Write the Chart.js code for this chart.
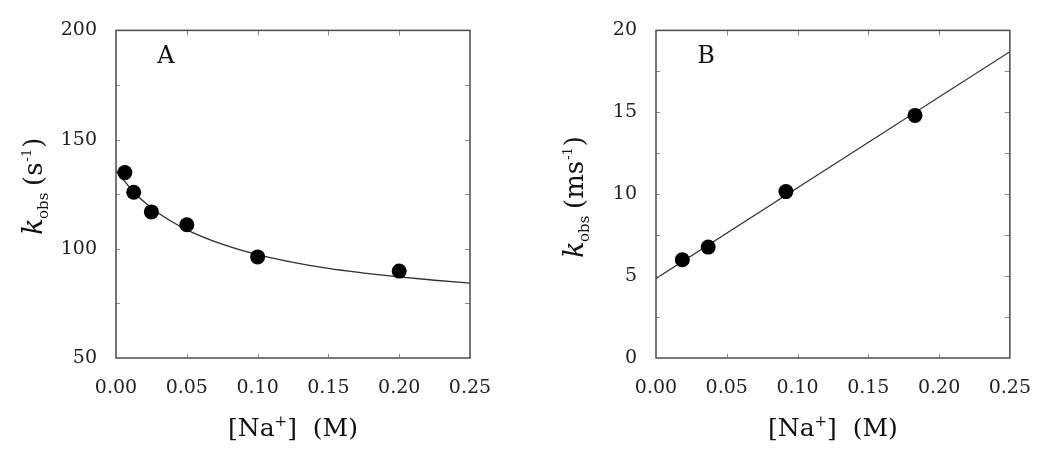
<!DOCTYPE html>
<html>
<head>
<meta charset="utf-8">
<script src="https://cdn.jsdelivr.net/npm/chart.js@4/dist/chart.umd.min.js"></script>
<style>
  html, body { margin: 0; padding: 0; background: #fff; }
  #wrap { position: relative; width: 1050px; height: 454px; }
  canvas { position: absolute; top: 0; }
</style>
</head>
<body>
<div id="wrap">
  <canvas id="cA" width="525" height="454" style="left:0px"></canvas>
  <canvas id="cB" width="525" height="454" style="left:525px"></canvas>
</div>
<script>
// ---------- DATA ----------
// Panel A: k_obs (s^-1) vs [Na+] (M)
const naA = [0.00625, 0.0125, 0.025, 0.05, 0.10, 0.20];
const kA  = [134.9, 125.9, 116.9, 111.0, 96.3, 89.8];
// fitted curve A
const fitXA = [0, 0.0125, 0.025, 0.0375, 0.05, 0.075, 0.10, 0.125, 0.15, 0.175, 0.20, 0.225, 0.25];
const fitYA = [135.8, 126.0, 118.7, 113.2, 108.7, 102.1, 97.3, 93.8, 91.0, 88.9, 87.1, 85.6, 84.3];

// Panel B: k_obs (ms^-1) vs [Na+] (M)
const naB = [0.0186, 0.0369, 0.0918, 0.183];
const kB  = [6.0, 6.77, 10.16, 14.81];
// fitted straight line B
const fitXB = [0, 0.25];
const fitYB = [4.85, 18.7];

// tick labels
const xTicks = [0, 0.05, 0.10, 0.15, 0.20, 0.25];
const yTicksA = [50, 100, 150, 200];
const yTicksB = [0, 5, 10, 15, 20];

// ---------- STYLE ----------
const SERIF = '"DejaVu Serif", "Liberation Serif", serif';

function toXY(xs, ys) { return xs.map((x, i) => ({ x: x, y: ys[i] })); }

function panelPlugin(opt) {
  return {
    id: 'panel' + opt.letter,
    afterDatasetsDraw(chart) {
      const ctx = chart.ctx;
      const a = chart.chartArea;
      const sx = chart.scales.x, sy = chart.scales.y;
      ctx.save();
      // inner ticks
      ctx.strokeStyle = '#8a8a8a';
      ctx.lineWidth = 1;
      ctx.beginPath();
      opt.xMinor.forEach(v => {
        const px = Math.round(sx.getPixelForValue(v)) + 0.5;
        ctx.moveTo(px, a.top); ctx.lineTo(px, a.top + 5);
        ctx.moveTo(px, a.bottom); ctx.lineTo(px, a.bottom - 4);
      });
      opt.yMinor.forEach(v => {
        const py = Math.round(sy.getPixelForValue(v)) + 0.5;
        ctx.moveTo(a.left, py); ctx.lineTo(a.left + 4, py);
        ctx.moveTo(a.right, py); ctx.lineTo(a.right - 5, py);
      });
      ctx.stroke();
      // frame
      ctx.strokeStyle = '#4a4a4a';
      ctx.lineWidth = 1.5;
      ctx.strokeRect(a.left, a.top, a.right - a.left, a.bottom - a.top);

      // panel letter
      ctx.fillStyle = '#111';
      ctx.font = '24px ' + SERIF;
      ctx.textAlign = 'center';
      ctx.textBaseline = 'middle';
      ctx.fillText(opt.letter, a.left + opt.letterDx, opt.letterY);

      // x title: [Na+]  (M)
      ctx.textBaseline = 'alphabetic';
      ctx.textAlign = 'left';
      const big = '25px ' + SERIF, sup = '15px ' + SERIF;
      const parts = [
        { t: '[Na', f: big, dy: 0 },
        { t: '+', f: sup, dy: -10 },
        { t: ']  (M)', f: big, dy: 0 }
      ];
      let w = 0;
      parts.forEach(p => { ctx.font = p.f; p.w = ctx.measureText(p.t).width; w += p.w; });
      let x0 = (a.left + a.right) / 2 - w / 2;
      const base = 436;
      parts.forEach(p => { ctx.font = p.f; ctx.fillText(p.t, x0, base + p.dy); x0 += p.w; });

      // y title: k_obs (unit^-1), rotated
      ctx.save();
      ctx.translate(opt.yTitleX, opt.yTitleY);
      ctx.rotate(-Math.PI / 2);
      ctx.font = 'italic 28px ' + SERIF;
      ctx.fillText('k', 0, 0);
      ctx.font = '15px ' + SERIF;
      ctx.fillText('obs', 16, 6);
      ctx.font = '26px ' + SERIF;
      const open = '(' + opt.unit;
      ctx.fillText(open, 49, 0);
      let ux = 49 + ctx.measureText(open).width + 1;
      ctx.font = '13px ' + SERIF;
      ctx.fillText('-1', ux, -11);
      ux += ctx.measureText('-1').width + 1;
      ctx.font = '26px ' + SERIF;
      ctx.fillText(')', ux, 0);
      ctx.restore();
      ctx.restore();
    }
  };
}

function makeChart(id, o) {
  return new Chart(document.getElementById(id), {
    type: 'scatter',
    data: {
      datasets: [
        {
          data: toXY(o.px, o.py),
          showLine: false,
          pointRadius: 7.5,
          pointHoverRadius: 7.5,
          pointBackgroundColor: '#000',
          pointBorderColor: '#000',
          pointBorderWidth: 0,
          order: 0
        },
        {
          type: 'line',
          data: toXY(o.fx, o.fy),
          showLine: true,
          fill: false,
          borderColor: '#2e2e2e',
          borderWidth: 1.3,
          pointRadius: 0,
          tension: 0.4,
          cubicInterpolationMode: 'monotone',
          order: 1
        }
      ]
    },
    options: {
      responsive: false,
      animation: false,
      devicePixelRatio: 1,
      layout: { padding: { left: 0, top: 24, right: o.padRight, bottom: 0 } },
      plugins: { legend: { display: false }, tooltip: { enabled: false }, title: { display: false } },
      events: [],
      scales: {
        x: {
          type: 'linear',
          min: 0, max: 0.25,
          afterBuildTicks(s) { s.ticks = xTicks.map(v => ({ value: v })); },
          afterFit(s) { s.height = 96; },
          grid: { display: false, drawTicks: false },
          border: { display: false },
          ticks: {
            autoSkip: false, maxRotation: 0, padding: 19,
            color: '#222', font: { family: SERIF, size: 19 },
            callback: v => Number(v).toFixed(2)
          }
        },
        y: {
          type: 'linear',
          min: o.yMin, max: o.yMax,
          afterBuildTicks(s) { s.ticks = o.yTicks.map(v => ({ value: v })); },
          afterFit(s) { s.width = o.yWidth; },
          grid: { display: false, drawTicks: false },
          border: { display: false },
          ticks: {
            autoSkip: false, padding: 19,
            color: '#222', font: { family: SERIF, size: 19 },
            callback: v => String(v)
          }
        }
      }
    },
    plugins: [panelPlugin(o)]
  });
}

makeChart('cA', {
  px: naA, py: kA, fx: fitXA, fy: fitYA,
  yMin: 50, yMax: 200, yTicks: yTicksA,
  yWidth: 116, padRight: 55,
  xMinor: [0.05, 0.10, 0.15, 0.20],
  yMinor: [75, 100, 125, 150, 175],
  letter: 'A', letterDx: 50, letterY: 57,
  unit: 's', yTitleX: 42, yTitleY: 235
});

makeChart('cB', {
  px: naB, py: kB, fx: fitXB, fy: fitYB,
  yMin: 0, yMax: 20, yTicks: yTicksB,
  yWidth: 131, padRight: 39,
  xMinor: [0.05, 0.10, 0.15, 0.20],
  yMinor: [2.5, 5, 7.5, 10, 12.5, 15, 17.5],
  letter: 'B', letterDx: 50, letterY: 57,
  unit: 'ms', yTitleX: 58, yTitleY: 258
});
</script>
</body>
</html>
